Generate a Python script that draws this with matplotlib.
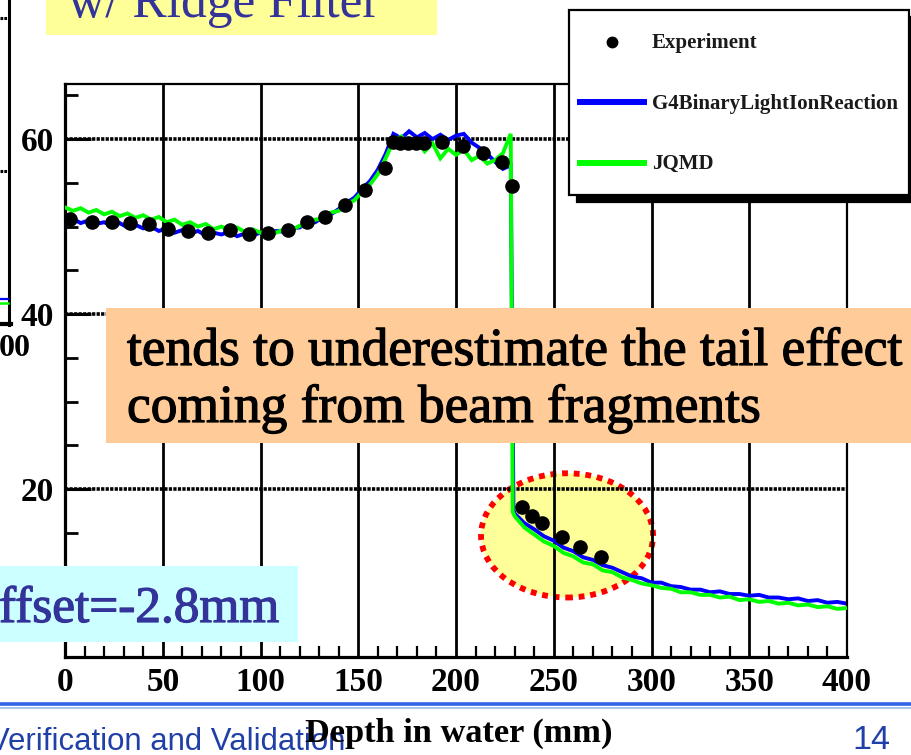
import numpy as np
import matplotlib
matplotlib.use('Agg')
import matplotlib.pyplot as plt
import matplotlib.patheffects as pe
from matplotlib.patches import Rectangle, Ellipse
from matplotlib.lines import Line2D
from matplotlib.ticker import MultipleLocator, FixedLocator

W, H = 911, 755

# ---------------- data ----------------
exp_depth = [2.6, 13.7, 23.9, 33.2, 43.1, 52.8, 63.1, 73.3, 84.4, 94.1,
             104.0, 113.9, 123.6, 133.0, 143.2, 153.5, 163.7, 167.8, 171.6, 175.5,
             179.5, 183.5, 192.7, 203.6, 213.8, 223.5, 228.6, 233.6, 238.7, 243.8,
             254.1, 263.4, 274.0]
exp_dose = [50.9, 50.5, 50.5, 50.4, 50.3, 49.7, 49.5, 49.3, 49.6, 49.1,
            49.3, 49.6, 50.5, 51.1, 52.5, 54.2, 56.7, 59.7, 59.5, 59.5,
            59.6, 59.5, 59.7, 59.2, 58.4, 57.4, 54.6, 17.9, 16.9, 16.1,
            14.5, 13.4, 12.2]

bragg_depth = list(range(0, 229, 4))
tail_depth = list(range(230, 401, 5))

blue_bragg = [50.6, 50.9, 50.4, 50.7, 50.3, 50.5, 50.1, 50.4, 49.9, 50.2,
              49.8, 50.0, 49.5, 49.8, 49.3, 49.6, 49.2, 49.5, 49.0, 49.3,
              49.1, 49.4, 48.9, 49.2, 49.0, 49.3, 49.1, 49.5, 49.4, 49.8,
              49.9, 50.4, 50.5, 51.1, 51.4, 52.0, 52.7, 53.3, 54.3, 55.2,
              56.5, 58.3, 60.6, 60.1, 60.9, 60.2, 60.7, 60.0, 60.5, 59.9,
              60.4, 60.6, 59.6, 59.0, 58.3, 57.4, 56.6, 57.0]
green_bragg = [52.2, 51.8, 52.1, 51.6, 51.9, 51.4, 51.7, 51.2, 51.5, 51.0,
               51.3, 50.8, 51.1, 50.5, 50.8, 50.2, 50.5, 50.0, 50.3, 49.7,
               50.0, 49.6, 49.9, 49.4, 49.7, 49.3, 49.5, 49.3, 49.7, 49.6,
               50.1, 50.2, 50.8, 50.9, 51.6, 51.8, 52.6, 53.0, 54.0, 54.8,
               56.0, 57.8, 59.8, 60.3, 59.4, 59.9, 58.6, 59.5, 57.8, 58.9,
               58.2, 58.8, 57.6, 58.1, 57.2, 57.6, 58.4, 60.6]
blue_drop = [229.4, 17.6]
green_drop = [229.0, 17.4]
blue_tail = [17.2, 16.1, 15.4, 14.6, 14.1, 13.3, 12.9, 12.2, 11.9, 11.3,
             11.0, 10.5, 10.0, 9.8, 9.3, 9.3, 8.9, 8.8, 8.5, 8.5,
             8.2, 8.3, 8.0, 8.0, 7.8, 7.9, 7.6, 7.6, 7.4, 7.5,
             7.2, 7.3, 7.0, 7.1, 6.9]
green_tail = [16.9, 15.6, 14.8, 14.0, 13.5, 12.7, 12.3, 11.6, 11.4, 10.7,
              10.5, 9.9, 9.6, 9.2, 9.0, 8.7, 8.6, 8.2, 8.2, 7.9,
              7.9, 7.6, 7.7, 7.3, 7.4, 7.1, 7.2, 6.9, 7.0, 6.7,
              6.8, 6.5, 6.6, 6.3, 6.4]

x_ticks = [0, 50, 100, 150, 200, 250, 300, 350, 400]
y_ticks = [20, 40, 60]
legend_labels = ["Experiment", "G4BinaryLightIonReaction", "JQMD"]

blue_depth = bragg_depth + [blue_drop[0]] + tail_depth
blue_dose = blue_bragg + [blue_drop[1]] + blue_tail
green_depth = bragg_depth + [green_drop[0]] + tail_depth
green_dose = green_bragg + [green_drop[1]] + green_tail

# ---------------- figure ----------------
fig = plt.figure(figsize=(W / 100, H / 100), dpi=100)
fig.patch.set_facecolor('white')
SERIF = ['Liberation Serif', 'DejaVu Serif']


def fx(px):
    return px / W


def fy(py):
    return 1 - py / H


ax = fig.add_axes([fx(65), fy(657), fx(847) - fx(65), fy(84) - fy(657)])
ax.set_xlim(0, 400)
ax.set_ylim(0.8, 66.3)

# highlight ellipse behind the data
ell = Ellipse((256.8, 14.7), 88, 14.2, facecolor='#ffff99', edgecolor='#ff0000',
              lw=4.2, linestyle=(0, (1.0, 1.0)), zorder=0.5)
ax.add_patch(ell)

for xv in x_ticks[1:]:
    ax.axvline(xv, color='black', lw=2.0, zorder=1)
for yv in y_ticks:
    ax.axhline(yv, color='black', lw=2.6, linestyle=(0, (0.9, 0.35)), zorder=1)

ax.plot(blue_depth, blue_dose, color='#0000ff', lw=2.8, zorder=2,
        solid_joinstyle='miter')
ax.plot(green_depth, green_dose, color='#00ff00', lw=2.8, zorder=3,
        solid_joinstyle='miter')
ax.plot(exp_depth, exp_dose, 'o', color='black', ms=9.5, zorder=4)

for s in ['left', 'bottom']:
    ax.spines[s].set_linewidth(2.3)
ax.spines['top'].set_linewidth(1.6)
ax.spines['right'].set_linewidth(1.6)

ax.xaxis.set_major_locator(FixedLocator(x_ticks))
ax.xaxis.set_minor_locator(MultipleLocator(10))
ax.yaxis.set_major_locator(FixedLocator(y_ticks))
ax.yaxis.set_minor_locator(MultipleLocator(5))
ax.tick_params(axis='x', which='major', direction='in', length=0, pad=7,
               top=False)
ax.tick_params(axis='x', which='minor', direction='in', length=8, width=1.6,
               top=False)
ax.tick_params(axis='y', which='major', direction='in', length=19, width=2.2,
               pad=8, right=False)
ax.tick_params(axis='y', which='minor', direction='in', length=9, width=2.0,
               right=False)
for lab in ax.get_xticklabels() + ax.get_yticklabels():
    lab.set_fontfamily(SERIF)
    lab.set_fontweight('bold')
    lab.set_fontsize(24)

# legend
handles = [Line2D([], [], marker='o', ls='none', color='black', ms=7.5),
           Line2D([], [], color='#0000ff', lw=4.3),
           Line2D([], [], color='#00ff00', lw=4.3)]
leg_fs = 15.0
fs_px = leg_fs * 100 / 72
row_px = 42.0
hh = (row_px / fs_px - 0.245) / 0.65
leg = ax.legend(handles, legend_labels, loc='upper left',
                bbox_to_anchor=(fx(569), fy(10)), bbox_transform=fig.transFigure,
                borderaxespad=0, fancybox=False, framealpha=1, edgecolor='black',
                prop={'family': SERIF, 'weight': 'bold', 'size': leg_fs},
                handlelength=64 / fs_px, handletextpad=8 / fs_px,
                handleheight=hh, labelspacing=18.5 / fs_px,
                borderpad=11 / fs_px,
                shadow={'ox': 6, 'oy': -5, 'color': 'black', 'alpha': 1})
leg.get_frame().set_linewidth(1.6)
for t in leg.get_texts():
    t.set_color('#1a1a1a')
# centre the handles on their text rows
for hd in leg.legend_handles:
    hd.set_ydata(np.asarray(hd.get_ydata(), dtype=float) - 5.0)
leg.set_zorder(10)

renderer = fig.canvas.get_renderer()


def fit(t, target_w):
    w = t.get_window_extent(renderer).width
    t.set_fontsize(t.get_fontsize() * target_w / w)
    return t.get_fontsize()


# ---------------- slide overlays ----------------
# fragment of neighbouring plot on the left edge
fig.add_artist(Line2D([fx(9), fx(9)], [fy(-2), fy(325)], color='black', lw=2.2))
fig.add_artist(Line2D([fx(-2), fx(11)], [fy(324), fy(324)], color='black', lw=3.0))
for yy in [18, 171]:
    fig.add_artist(Line2D([fx(0), fx(7)], [fy(yy), fy(yy)], color='black', lw=2.2,
                          linestyle=(0, (0.9, 0.35))))
fig.add_artist(Line2D([fx(-2), fx(8)], [fy(299), fy(299)], color='#0000ff', lw=1.6))
fig.add_artist(Line2D([fx(-2), fx(8)], [fy(303), fy(303)], color='#00ff00', lw=1.8))
fig.text(fx(-1), fy(356), "00", family=SERIF, weight='bold', fontsize=23,
         va='baseline', ha='left')

# top yellow title box
fig.add_artist(Rectangle((fx(46), fy(35)), fx(437) - fx(46), fy(-5) - fy(35),
                         transform=fig.transFigure, facecolor='#ffff99',
                         edgecolor='none', zorder=5))
t = fig.text(fx(68), fy(17), "w/ Ridge Filter", family=SERIF, color='#333399',
             fontsize=30, va='baseline', ha='left', zorder=6)
fit(t, 312)

# orange comment box
fig.add_artist(Rectangle((fx(106), fy(443)), fx(915) - fx(106), fy(308) - fy(443),
                         transform=fig.transFigure, facecolor='#ffcc99',
                         edgecolor='none', zorder=5))
heavy = [pe.withStroke(linewidth=0.9, foreground='black')]
t1 = fig.text(fx(127), fy(365), "tends to underestimate the tail effect",
              family=SERIF, color='black', fontsize=30, va='baseline',
              ha='left', zorder=6)
fs1 = fit(t1, 775)
t1.set_path_effects(heavy)
t2 = fig.text(fx(127), fy(422), "coming from beam fragments", family=SERIF,
              color='black', fontsize=fs1, va='baseline', ha='left', zorder=6)
t2.set_path_effects(heavy)

# cyan offset box
fig.add_artist(Rectangle((fx(-5), fy(642)), fx(298) - fx(-5), fy(566) - fy(642),
                         transform=fig.transFigure, facecolor='#ccffff',
                         edgecolor='none', zorder=5))
t = fig.text(fx(-1), fy(622), "ffset=-2.8mm", family=SERIF, color='#333399',
             fontsize=30, va='baseline', ha='left', zorder=6)
fit(t, 280)
t.set_path_effects([pe.withStroke(linewidth=0.9, foreground='#333399')])

# slide footer
fig.add_artist(Line2D([0, 1], [fy(704), fy(704)], color='#2f62e6', lw=2.6, zorder=5))
fig.add_artist(Line2D([0, 1], [fy(707.5), fy(707.5)], color='#a8c0f4', lw=1.4, zorder=5))
t = fig.text(fx(-11), fy(750), "Verification and Validation",
             family=['Liberation Sans', 'DejaVu Sans'], color='#2040a8',
             fontsize=18, va='baseline', ha='left', zorder=6)
fit(t, 356)
t = fig.text(fx(852), fy(749), "14", family=['Liberation Sans', 'DejaVu Sans'],
             color='#2040a8', fontsize=18, va='baseline', ha='left', zorder=6)
fit(t, 38)
t = fig.text(fx(305), fy(742), "Depth in water (mm)", family=SERIF,
             weight='bold', color='black', fontsize=20, va='baseline',
             ha='left', zorder=7)
fit(t, 308)

fig.savefig('out.png', dpi=100, facecolor='white')
